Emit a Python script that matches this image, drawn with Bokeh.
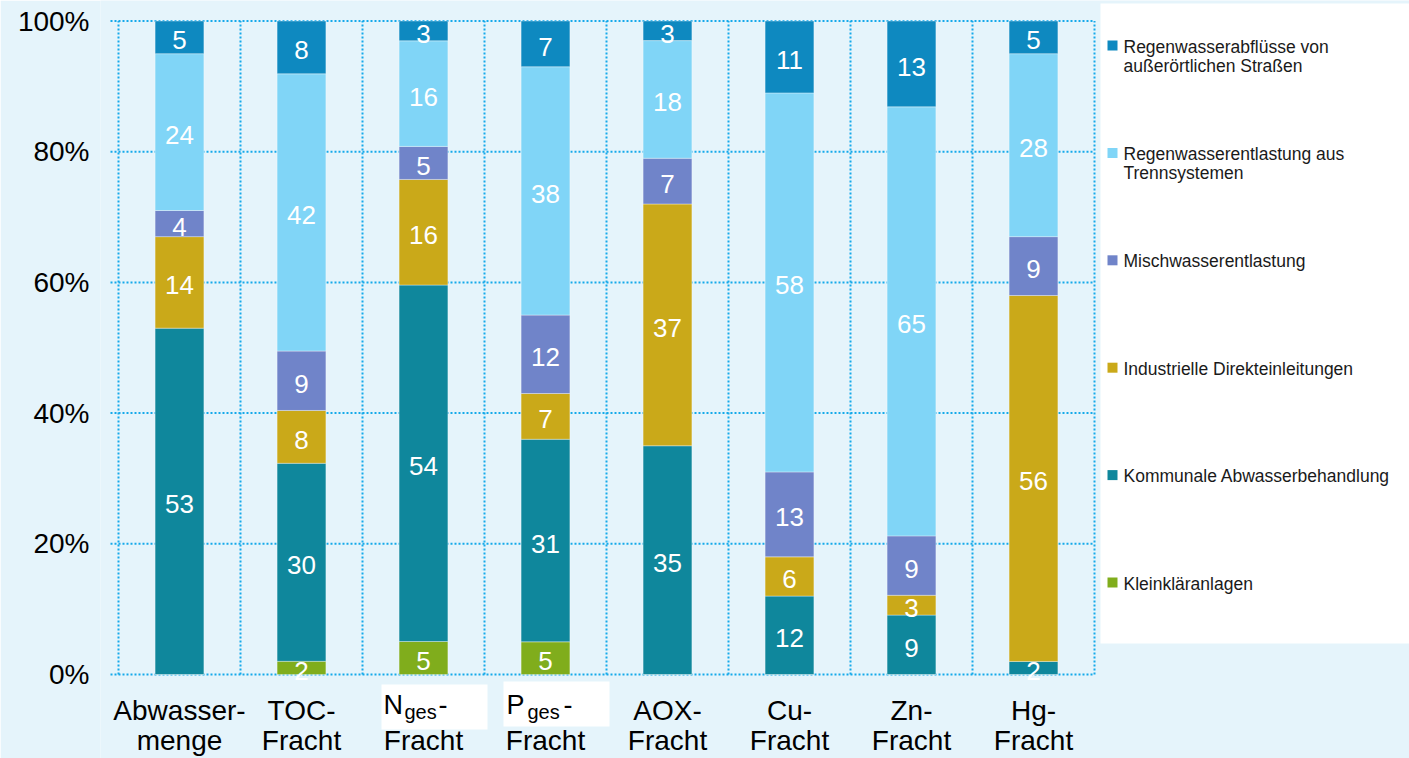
from bokeh.plotting import figure
from bokeh.models import ColumnDataSource, Range1d, FixedTicker, NumeralTickFormatter
from bokeh.embed import file_html
from bokeh.resources import INLINE
from bokeh.core.properties import value

# ---- data -------------------------------------------------------------
categories = ["Abwassermenge", "TOC-Fracht", "Nges-Fracht", "Pges-Fracht",
              "AOX-Fracht", "Cu-Fracht", "Zn-Fracht", "Hg-Fracht"]
label_line1 = ["Abwasser-", "TOC-", "", "", "AOX-", "Cu-", "Zn-", "Hg-"]
label_line2 = ["menge", "Fracht", "Fracht", "Fracht", "Fracht", "Fracht", "Fracht", "Fracht"]
subscript_labels = {2: ("N", "ges", "-"), 3: ("P", "ges", "-")}

series = ["Kleinkläranlagen",
          "Kommunale Abwasserbehandlung",
          "Industrielle Direkteinleitungen",
          "Mischwasserentlastung",
          "Regenwasserentlastung aus Trennsystemen",
          "Regenwasserabflüsse von außerörtlichen Straßen"]
legend_labels = ["Kleinkläranlagen",
                 "Kommunale Abwasserbehandlung",
                 "Industrielle Direkteinleitungen",
                 "Mischwasserentlastung",
                 "Regenwasserentlastung aus\nTrennsystemen",
                 "Regenwasserabflüsse von\naußerörtlichen Straßen"]

kleinklaeranlagen = [0, 2, 5, 5, 0, 0, 0, 0]
kommunale = [53, 30, 54, 31, 35, 12, 9, 2]
industrie = [14, 8, 16, 7, 37, 6, 3, 56]
mischwasser = [4, 9, 5, 12, 7, 13, 9, 9]
trennsystem = [24, 42, 16, 38, 18, 58, 65, 28]
strassen = [5, 8, 3, 7, 3, 11, 13, 5]

y_ticks = [0, 0.2, 0.4, 0.6, 0.8, 1.0]

values = [kleinklaeranlagen, kommunale, industrie, mischwasser, trennsystem, strassen]
colors = ["#80ad1c", "#0f879c", "#caa919", "#7084c9", "#80d5f7", "#0e89c0"]

BG = "#e5f4fb"
GRID = "#15a9ea"
FONT = "Liberation Sans"

# ---- page geometry (pixels) -------------------------------------------
W, H = 1409, 758
FRAME_LEFT = 100    # drawing area starts here, the y-axis labels sit to its left
LEFT = 118          # left edge of the category area
CAT_W = 122         # width of one category slot
ZERO_Y = 674        # 0 % line
FULL_H = 653.5      # height of 100 %


def px_x(px):
    return (px - LEFT) / CAT_W


def px_y(py):
    return (ZERO_Y - py) / FULL_H


# ---- shares per category (100 % stacking) ------------------------------
n = len(categories)
totals = [sum(v[i] for v in values) for i in range(n)]
xs = [i + 0.5 for i in range(n)]

data = {"x": xs}
for name, vals in zip(series, values):
    data[name] = [vals[i] / totals[i] for i in range(n)]
source = ColumnDataSource(data)

# ---- figure -----------------------------------------------------------
p = figure(width=W, height=H,
           x_range=Range1d(px_x(FRAME_LEFT), px_x(W)), y_range=Range1d(px_y(H), px_y(0)),
           output_backend="svg", toolbar_location=None, x_axis_location=None,
           min_border_left=FRAME_LEFT, min_border_right=0, min_border_top=0, min_border_bottom=0)
p.background_fill_color = BG
p.border_fill_color = BG
p.outline_line_color = None
p.grid.visible = False

# dotted grid restricted to the chart area (horizontal lines start with a short tick)
p.segment(x0=[px_x(110)] * len(y_ticks), x1=[n] * len(y_ticks), y0=y_ticks, y1=y_ticks,
          line_color=GRID, line_dash="2 2", line_width=2)
p.segment(x0=list(range(n + 1)), x1=list(range(n + 1)), y0=[0] * (n + 1), y1=[1] * (n + 1),
          line_color=GRID, line_dash="2 2", line_width=2)

# stacked bars
p.vbar_stack(series, x="x", width=0.4, source=source, fill_color=colors,
             line_color="white", line_alpha=0.35, line_width=1)

# value labels in the middle of each segment
lx, ly, lt = [], [], []
for i in range(n):
    bottom = 0.0
    for vals in values:
        share = vals[i] / totals[i]
        if vals[i] > 0:
            lx.append(xs[i])
            ly.append(bottom + share / 2)
            lt.append(str(vals[i]))
        bottom += share
p.text(x=lx, y=ly, text=lt, text_color="white", text_font=value(FONT),
       text_font_size="26px", text_align="center", text_baseline="middle", y_offset=3)

# y axis
p.yaxis.ticker = FixedTicker(ticks=y_ticks)
p.yaxis.formatter = NumeralTickFormatter(format="0%")
p.yaxis.axis_line_color = None
p.yaxis.major_tick_in = 0
p.yaxis.major_tick_out = 0
p.yaxis.major_tick_line_color = None
p.yaxis.minor_tick_line_color = None
p.yaxis.major_label_standoff = 11
p.yaxis.major_label_text_font = FONT
p.yaxis.major_label_text_font_size = "28px"
p.yaxis.major_label_text_color = "black"

# category labels (two lines)
p.text(x=xs, y=[px_y(710)] * n, text=label_line1, text_font=value(FONT),
       text_font_size="28px", text_color="black", text_align="center",
       text_baseline="middle")
p.text(x=xs, y=[px_y(740)] * n, text=label_line2, text_font=value(FONT),
       text_font_size="28px", text_color="black", text_align="center",
       text_baseline="middle")

# N_ges / P_ges with subscript on white plates
plate_top = {2: 684, 3: 681}
offsets = {2: (-40, -19, 15), 3: (-39, -18, 18)}
for idx, (main, sub, dash) in subscript_labels.items():
    cx = xs[idx]
    p.quad(left=[cx - 42 / CAT_W], right=[cx + 64 / CAT_W],
           top=[px_y(plate_top[idx])], bottom=[px_y(plate_top[idx] + 45)],
           fill_color="white", line_color=None)
    o = offsets[idx]
    p.text(x=[cx + o[0] / CAT_W], y=[px_y(704)], text=[main], text_font=value(FONT),
           text_font_size="27px", text_color="black", text_align="left",
           text_baseline="middle")
    p.text(x=[cx + o[1] / CAT_W], y=[px_y(711)], text=[sub], text_font=value(FONT),
           text_font_size="20px", text_color="black", text_align="left",
           text_baseline="middle")
    p.text(x=[cx + o[2] / CAT_W], y=[px_y(704)], text=[dash], text_font=value(FONT),
           text_font_size="27px", text_color="black", text_align="left",
           text_baseline="middle")

# ---- legend panel -------------------------------------------------------
p.quad(left=[px_x(1100)], right=[px_x(W)], top=[px_y(3)], bottom=[px_y(643)],
       fill_color="white", line_color=None)

order = list(range(len(series)))[::-1]
entry_y = [45 + k * 107.4 for k in range(len(order))]
p.rect(x=[px_x(1112)] * len(order), y=[px_y(v) for v in entry_y], width=10, height=10,
       width_units="screen", height_units="screen",
       fill_color=[colors[i] for i in order], line_color=None)

tx, ty, tt = [], [], []
for k, i in enumerate(order):
    for j, line in enumerate(legend_labels[i].split("\n")):
        tx.append(px_x(1123))
        ty.append(px_y(entry_y[k] + 1 + 19 * j))
        tt.append(line)
p.text(x=tx, y=ty, text=tt, text_font=value(FONT), text_font_size="17.5px",
       text_color="#1a1a1a", text_align="left", text_baseline="middle")

open("out.html", "w").write(file_html(p, INLINE))
